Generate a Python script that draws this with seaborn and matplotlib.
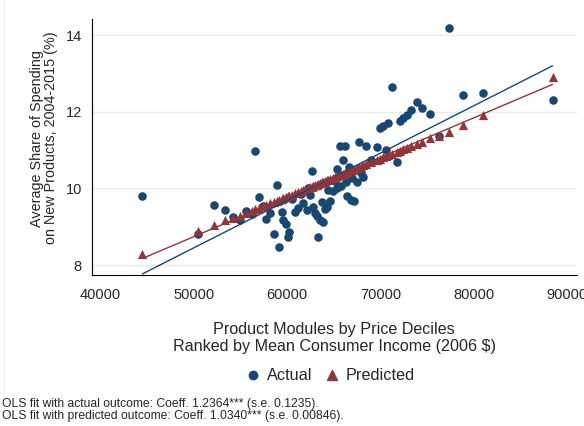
import numpy as np
import pandas as pd
import matplotlib
matplotlib.use("Agg")
import matplotlib.pyplot as plt
import seaborn as sns
from matplotlib.lines import Line2D

# Mean consumer income of each product-module price decile (2006 $)
income = [
    44500, 50480, 52170, 53350, 54240, 54950, 55600, 56200, 56560, 57000,
    57400, 57700, 58170, 58600, 58880, 59130, 59420, 59600, 59880, 60060,
    60240, 60490, 60850, 61200, 61500, 61740, 62100, 62270, 62450, 62630,
    62810, 63010, 63170, 63345, 63540, 63710, 63900, 64100, 64240, 64420,
    64640, 64900, 65130, 65300, 65370, 65660, 65730, 66020, 66210, 66300,
    66450, 66670, 66820, 66920, 67180, 67455, 67760, 67880, 68165, 68450,
    68950, 69650, 69950, 70300, 70650, 70850, 71275, 71780, 72050, 72420,
    72800, 73250, 73900, 74500, 75300, 76310, 77400, 78800, 80950, 88450,
]

# Average share of spending on new products, 2004-2015 (%)
actual_share = [
    9.80, 8.82, 9.58, 9.43, 9.26, 9.17, 9.42, 9.34, 10.98, 9.77,
    9.55, 9.21, 9.35, 8.80, 10.09, 8.48, 9.39, 9.17, 9.07, 8.74,
    8.87, 9.72, 9.39, 9.48, 9.85, 9.61, 9.43, 10.00, 9.83, 10.46,
    9.52, 9.36, 9.27, 8.74, 9.18, 9.65, 9.12, 9.45, 9.52, 9.96,
    9.67, 9.92, 10.20, 10.52, 10.02, 11.10, 10.06, 10.73, 11.10, 10.17,
    9.80, 10.55, 9.71, 10.26, 9.67, 10.17, 11.21, 10.41, 10.30, 11.12,
    10.75, 11.07, 11.58, 11.62, 11.00, 11.70, 12.66, 10.70, 11.76, 11.84,
    11.93, 12.04, 12.25, 12.10, 11.95, 11.38, 14.19, 12.43, 12.50, 12.32,
]

predicted_share = [
    8.28, 8.89, 9.04, 9.17, 9.23, 9.29, 9.35, 9.41, 9.45, 9.49,
    9.53, 9.56, 9.61, 9.65, 9.68, 9.70, 9.73, 9.75, 9.78, 9.79,
    9.81, 9.84, 9.87, 9.91, 9.94, 9.96, 10.00, 10.01, 10.03, 10.05,
    10.07, 10.09, 10.10, 10.12, 10.14, 10.16, 10.18, 10.20, 10.21, 10.23,
    10.25, 10.28, 10.30, 10.32, 10.32, 10.35, 10.36, 10.39, 10.41, 10.41,
    10.43, 10.45, 10.47, 10.48, 10.50, 10.53, 10.56, 10.57, 10.60, 10.63,
    10.68, 10.75, 10.78, 10.81, 10.85, 10.87, 10.91, 10.96, 10.99, 11.02,
    11.06, 11.10, 11.15, 11.22, 11.31, 11.37, 11.48, 11.66, 11.91, 12.92,
]

# OLS slopes, percentage points per $10,000 of income
coef_actual = 1.2364
coef_predicted = 1.0340

series_labels = ["Actual", "Predicted"]
navy = "#1a476f"
maroon = "#90353b"
grid_color = "#e5edef"

df = pd.DataFrame({"income": income, "actual": actual_share,
                   "predicted": predicted_share})

sns.set_theme(style="white")
plt.rcParams["font.family"] = ["Liberation Sans", "DejaVu Sans"]

fig = plt.figure(figsize=(5.84, 4.26), dpi=100)
ax = fig.add_axes([0.157, 0.3545, 0.831, 0.6005])

sns.scatterplot(data=df, x="income", y="actual", ax=ax, color=navy,
                marker="o", s=38, linewidth=0, zorder=3)
sns.scatterplot(data=df, x="income", y="predicted", ax=ax, color=maroon,
                marker="^", s=44, linewidth=0, zorder=4)

# Fitted OLS lines: stated slope, intercept through the sample means
xs = np.array([df["income"].min(), df["income"].max()])
for col, coef, color in [("actual", coef_actual, navy),
                         ("predicted", coef_predicted, maroon)]:
    b = coef / 10000.0
    a = df[col].mean() - b * df["income"].mean()
    ax.plot(xs, a + b * xs, color=color, lw=1.0, zorder=5)

ax.set_xlim(39057, 91070)
ax.set_ylim(7.74, 14.42)
ax.set_xticks([40000, 50000, 60000, 70000, 80000, 90000])
ax.set_yticks([8, 10, 12, 14])
ax.yaxis.grid(True, color=grid_color, lw=1.0)
ax.xaxis.grid(False)
ax.set_axisbelow(True)

for side in ["top", "right"]:
    ax.spines[side].set_visible(False)
for side in ["left", "bottom"]:
    ax.spines[side].set_color("black")
    ax.spines[side].set_linewidth(0.8)

ax.tick_params(axis="x", direction="out", length=6.5, width=0.8,
               color="black", labelsize=10.5, pad=3)
ax.tick_params(axis="y", direction="out", length=4, width=0.8,
               color="black", labelsize=10.5, pad=3)

ax.set_xlabel("Product Modules by Price Deciles\nRanked by Mean Consumer Income (2006 $)",
              fontsize=11.6, labelpad=14, linespacing=1.22)
ax.set_ylabel("Average Share of Spending\non New Products, 2004-2015 (%)",
              fontsize=10.4, linespacing=1.0)
ax.yaxis.set_label_coords(-0.070, 0.535)

handles = [
    Line2D([], [], marker="o", color=navy, linestyle="none", markersize=6),
    Line2D([], [], marker="^", color=maroon, linestyle="none", markersize=6.5),
]
fig.legend(handles, series_labels, loc="center", bbox_to_anchor=(0.566, 0.118),
           ncol=2, frameon=False, fontsize=11.7, handlelength=0.8,
           handletextpad=0.45, columnspacing=0.8)

fig.text(0.003, 0.0516, "OLS fit with actual outcome: Coeff. 1.2364*** (s.e. 0.1235).",
         fontsize=8.7, ha="left", va="center")
fig.text(0.003, 0.0235, "OLS fit with predicted outcome: Coeff. 1.0340*** (s.e. 0.00846).",
         fontsize=8.7, ha="left", va="center")

# faint outer border on the left of the graph region
fig.add_artist(Line2D([0.006, 0.006], [0.08, 1.0], transform=fig.transFigure,
                      color="#e8eef0", lw=1.0))

fig.savefig("out.png", dpi=100, facecolor="white")
